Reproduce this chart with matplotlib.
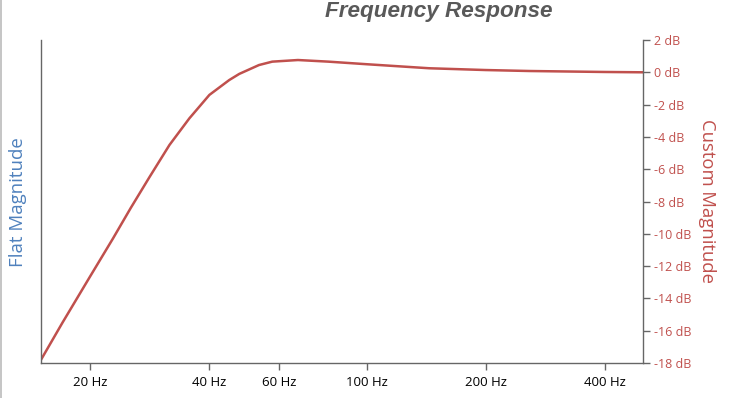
import matplotlib
matplotlib.use("Agg")
import matplotlib.pyplot as plt
import matplotlib.ticker as mticker
from matplotlib.lines import Line2D

# frekvens (Hz) og forsterkning (dB) lest fra grafen
freq_hz = [15, 17.0, 19.9, 22.8, 25.3, 28.2, 31.7, 35.6, 40, 44.9, 47.6, 53.4,
           57.7, 67, 80, 100, 144, 200, 258, 400, 500]
gain_db = [-17.8, -15.5, -12.7, -10.3, -8.4, -6.5, -4.5, -2.85, -1.4, -0.48,
           -0.1, 0.45, 0.66, 0.76, 0.66, 0.5, 0.25, 0.14, 0.08, 0.02, 0.0]

x_ticks = [20, 40, 60, 100, 200, 400]
x_tick_labels = ["20 Hz", "40 Hz", "60 Hz", "100 Hz", "200 Hz", "400 Hz"]
y_ticks = list(range(-18, 3, 2))
y_tick_labels = [f"{v} dB" for v in y_ticks]

red = "#c0504d"
blue = "#4f81bd"
axis_gray = "#666666"

plt.rcParams['font.family'] = ['Open Sans', 'DejaVu Sans']

W, H = 735, 398
fig = plt.figure(figsize=(W / 100, H / 100), dpi=100)
ax = fig.add_axes([41 / W, (H - 363) / H, (643 - 41) / W, (363 - 40) / H])

ax.plot(freq_hz, gain_db, color=red, linewidth=1.8, solid_capstyle='round',
        solid_joinstyle='round')

ax.set_xscale('log')
ax.set_xlim(15, 500)
ax.set_ylim(-18, 2)

ax.xaxis.set_major_locator(mticker.FixedLocator(x_ticks))
ax.xaxis.set_major_formatter(mticker.FixedFormatter(x_tick_labels))
ax.xaxis.set_minor_locator(mticker.NullLocator())
ax.tick_params(axis='x', length=5, width=1, color=axis_gray, labelsize=9.5,
               labelcolor='black', pad=4)

ax.yaxis.tick_right()
ax.set_yticks(y_ticks)
ax.set_yticklabels(y_tick_labels)
ax.tick_params(axis='y', length=5, width=1, color=axis_gray, labelsize=9,
               labelcolor=red, pad=3)

for side in ['left', 'bottom', 'right']:
    ax.spines[side].set_color(axis_gray)
    ax.spines[side].set_linewidth(1)
ax.spines['top'].set_visible(False)

# aksetitler
fig.text(18 / W, 1 - 202 / H, "Flat Magnitude", rotation=90, color=blue,
         fontsize=13.4, ha='center', va='center')
fig.text(707 / W, 1 - 201 / H, "Custom Magnitude", rotation=-90, color=red,
         fontsize=13.3, ha='center', va='center')

fig.text(439 / W, 1 - 16.5 / H, "Frequency Response", color="#595959",
         fontsize=16.2, fontweight='bold', fontstyle='italic',
         family=['Liberation Sans', 'DejaVu Sans'], ha='center', va='baseline')

# grå kant til venstre
fig.add_artist(Line2D([0.8 / W, 0.8 / W], [0, 1], color="#bbbbbb", linewidth=1.2,
                      transform=fig.transFigure))

fig.savefig("out.png", dpi=100)
